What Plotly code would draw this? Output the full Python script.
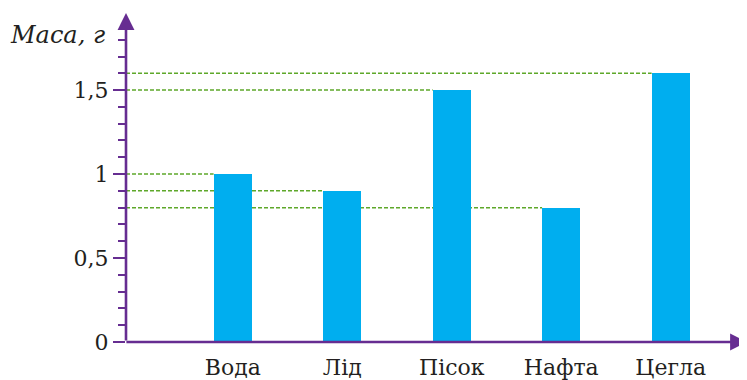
import plotly.graph_objects as go

# ---- data ----
categories = ["Вода", "Лід", "Пісок", "Нафта", "Цегла"]
masses = [1.0, 0.9, 1.5, 0.8, 1.6]
y_label_vals = [0, 0.5, 1, 1.5]
y_label_text = ["0", "0,5", "1", "1,5"]
y_minor_vals = [0.1, 0.2, 0.3, 0.4, 0.6, 0.7, 0.8, 0.9, 1.1, 1.2, 1.3, 1.4, 1.6, 1.7, 1.8]
y_title = "Маса, г"

# ---- style ----
BAR_COLOR = "#00AEEF"
AXIS_COLOR = "#662D91"
GUIDE_COLOR = "#5EA82A"
TEXT_COLOR = "#231F20"
FONT = "DejaVu Serif"
BAR_W = 0.35
X0 = 0.025
X_MAX = X0 + 621 / 109.5
Y_MAX = 335 / 171

xpos = list(range(1, len(categories) + 1))

fig = go.Figure()

fig.add_trace(go.Bar(
    x=xpos, y=masses, width=BAR_W, marker=dict(color=BAR_COLOR, line=dict(width=0)),
    hoverinfo="skip", showlegend=False,
))

shapes = []
for xp, m in zip(xpos, masses):
    shapes.append(dict(
        type="line", layer="below", xref="x", yref="y",
        x0=X0, x1=xp - BAR_W / 2, y0=m, y1=m,
        line=dict(color=GUIDE_COLOR, width=1.5, dash="4px,2px"),
    ))

annotations = [
    # y axis with arrow
    dict(x=X0, y=Y_MAX, xref="x", yref="y", ax=X0, ay=0, axref="x", ayref="y",
         text="", showarrow=True, arrowhead=2, arrowsize=1.3, arrowwidth=2.6,
         arrowcolor=AXIS_COLOR, standoff=0, startstandoff=0),
    # x axis with arrow
    dict(x=X_MAX, y=0, xref="x", yref="y", ax=X0 - 0.01, ay=0, axref="x", ayref="y",
         text="", showarrow=True, arrowhead=2, arrowsize=1.3, arrowwidth=2.6,
         arrowcolor=AXIS_COLOR, standoff=0, startstandoff=0),
    dict(x=0, y=1, xref="paper", yref="paper", xanchor="right", yanchor="middle",
         xshift=-19, yshift=-22, text=f"<i>{y_title}</i>", showarrow=False,
         font=dict(family=FONT, size=24, color=TEXT_COLOR)),
]

# the page body has an 8px default margin, so the figure is sized to end at the window edge
fig.update_layout(
    width=739, height=372,
    margin=dict(l=118, r=0, t=5, b=32, pad=0),
    paper_bgcolor="white", plot_bgcolor="white",
    shapes=shapes, annotations=annotations,
    bargap=0,
    xaxis=dict(
        range=[X0, X_MAX], tickvals=xpos, ticktext=categories,
        showgrid=False, zeroline=False, showline=False, ticks="",
        tickfont=dict(family=FONT, size=22, color=TEXT_COLOR),
        ticklabelstandoff=10,
        fixedrange=True,
    ),
    yaxis=dict(
        range=[0, Y_MAX], tickvals=y_label_vals, ticktext=y_label_text,
        showgrid=False, zeroline=False, showline=False,
        ticks="outside", ticklen=12, tickwidth=2.4, tickcolor=AXIS_COLOR,
        minor=dict(tickvals=y_minor_vals, ticks="outside", ticklen=7,
                   tickwidth=2.4, tickcolor=AXIS_COLOR, showgrid=False),
        tickfont=dict(family=FONT, size=22, color=TEXT_COLOR),
        fixedrange=True,
    ),
)

fig.write_html("out.html")
